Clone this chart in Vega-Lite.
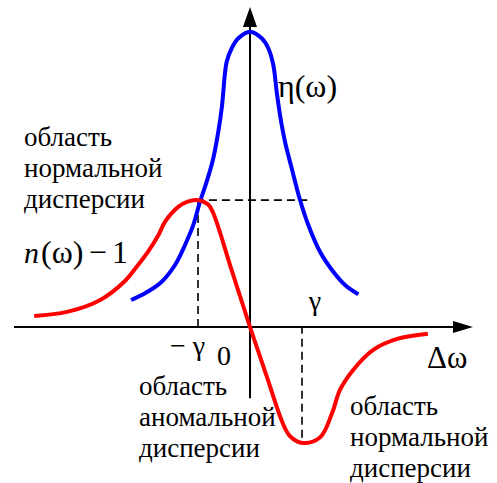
{
  "$schema": "https://vega.github.io/schema/vega-lite/v6.json",
  "width": 497,
  "height": 483,
  "autosize": {"type": "fit", "contains": "padding"},
  "padding": 0,
  "background": "white",
  "config": {"view": {"stroke": null}},
  "datasets": {
    "blue": [
      {"x": -2.288, "y": 0.519}, {"x": -2.019, "y": 0.648}, {"x": -1.698, "y": 0.871}, {"x": -1.442, "y": 1.192},
      {"x": -1.25, "y": 1.577}, {"x": -1.09, "y": 1.962}, {"x": -0.962, "y": 2.41}, {"x": -0.833, "y": 2.794},
      {"x": -0.706, "y": 3.244}, {"x": -0.61, "y": 3.756}, {"x": -0.544, "y": 4.206}, {"x": -0.513, "y": 4.525},
      {"x": -0.49, "y": 4.8}, {"x": -0.448, "y": 5.102}, {"x": -0.352, "y": 5.36}, {"x": -0.225, "y": 5.552},
      {"x": 0, "y": 5.679},
      {"x": 0.225, "y": 5.552}, {"x": 0.352, "y": 5.36}, {"x": 0.448, "y": 5.038}, {"x": 0.513, "y": 4.525},
      {"x": 0.577, "y": 4.077}, {"x": 0.673, "y": 3.563}, {"x": 0.802, "y": 3.052}, {"x": 0.962, "y": 2.442},
      {"x": 1.121, "y": 1.962}, {"x": 1.346, "y": 1.448}, {"x": 1.602, "y": 1.063}, {"x": 1.827, "y": 0.808},
      {"x": 2.083, "y": 0.629}
    ],
    "red": [
      {"x": -4.15, "y": 0.21}, {"x": -3.52, "y": 0.29}, {"x": -2.88, "y": 0.52}, {"x": -2.4, "y": 0.89},
      {"x": -2.21, "y": 1.12}, {"x": -1.96, "y": 1.45}, {"x": -1.76, "y": 1.77}, {"x": -1.63, "y": 2.03},
      {"x": -1.38, "y": 2.31}, {"x": -1.2, "y": 2.41}, {"x": -1.025, "y": 2.442}, {"x": -0.8, "y": 2.35},
      {"x": -0.706, "y": 2.187}, {"x": -0.353, "y": 1.094}, {"x": 0, "y": 0}, {"x": 0.315, "y": -0.93},
      {"x": 0.63, "y": -1.85}, {"x": 0.77, "y": -2.1},
      {"x": 1.02, "y": -2.23}, {"x": 1.35, "y": -2.12}, {"x": 1.58, "y": -1.65}, {"x": 1.73, "y": -1.21},
      {"x": 1.98, "y": -0.83}, {"x": 2.37, "y": -0.44}, {"x": 2.83, "y": -0.23}, {"x": 3.42, "y": -0.13}
    ],
    "axes": [
      {"g": "h", "x": -4.54, "y": 0}, {"g": "h", "x": 3.92, "y": 0},
      {"g": "v", "x": 0, "y": -1.37}, {"g": "v", "x": 0, "y": 5.8}
    ],
    "dashed": [
      {"g": "h", "x": -1.04, "y": 2.44}, {"g": "h", "x": 1.1, "y": 2.44},
      {"g": "v1", "x": -1.0, "y": 0}, {"g": "v1", "x": -1.0, "y": 2.44},
      {"g": "v2", "x": 1.0, "y": 0}, {"g": "v2", "x": 1.0, "y": -2.13}
    ],
    "arrowRight": [
      {"x": 3.904, "y": -0.115, "y2": 0.115}, {"x": 4.288, "y": 0, "y2": 0}
    ],
    "arrowUp": [
      {"y": 5.769, "x": -0.135, "x2": 0.135}, {"y": 6.154, "x": 0, "x2": 0}
    ],
    "labels": [
      {"k": "ru", "x": -4.346, "y": 3.481, "t": ["область", "нормальной", "дисперсии"]},
      {"k": "ru", "x": -2.135, "y": -1.308, "t": ["область", "аномальной", "дисперсии"]},
      {"k": "ru", "x": 1.923, "y": -1.692, "t": ["область", "нормальной", "дисперсии"]},
      {"k": "sym", "x": 0.538, "y": 4.423, "t": "η(ω)"},
      {"k": "sym", "x": -4.02, "y": 1.231, "t": "(ω)"},
      {"k": "sym", "x": -3.1, "y": 1.231, "t": "−"},
      {"k": "sym", "x": -2.654, "y": 1.231, "t": "1"},
      {"k": "it", "x": -4.346, "y": 1.231, "t": "n"},
      {"k": "sym2", "x": 1.13, "y": 0.327, "t": "γ"},
      {"k": "sym2", "x": -1.538, "y": -0.538, "t": "− γ"},
      {"k": "sym2", "x": -0.635, "y": -0.731, "t": "0"},
      {"k": "sym3", "x": 3.404, "y": -0.788, "t": "Δω"}
    ]
  },
  "encoding": {
    "x": {"field": "x", "type": "quantitative", "axis": null, "scale": {"domain": [-4.808, 4.75], "nice": false, "zero": false}},
    "y": {"field": "y", "type": "quantitative", "axis": null, "scale": {"domain": [-3.0, 6.288], "nice": false, "zero": false}}
  },
  "layer": [
    {
      "data": {"name": "axes"},
      "mark": {"type": "line", "color": "black", "strokeWidth": 2},
      "encoding": {"detail": {"field": "g"}, "order": {"field": "y"}}
    },
    {
      "data": {"name": "arrowRight"},
      "mark": {"type": "area", "color": "black", "orient": "vertical"},
      "encoding": {"y2": {"field": "y2"}}
    },
    {
      "data": {"name": "arrowUp"},
      "mark": {"type": "area", "color": "black", "orient": "horizontal"},
      "encoding": {"x2": {"field": "x2"}}
    },
    {
      "data": {"name": "dashed"},
      "mark": {"type": "line", "color": "black", "strokeWidth": 1.6, "strokeDash": [8, 5]},
      "encoding": {"detail": {"field": "g"}, "order": {"field": "y"}}
    },
    {
      "data": {"name": "blue"},
      "mark": {"type": "line", "color": "#0000ff", "strokeWidth": 4, "interpolate": "catmull-rom"},
      "encoding": {}
    },
    {
      "data": {"name": "red"},
      "mark": {"type": "line", "color": "#ff0000", "strokeWidth": 4, "interpolate": "catmull-rom"},
      "encoding": {}
    },
    {
      "data": {"name": "labels"},
      "transform": [{"filter": "datum.k === 'ru'"}],
      "mark": {"type": "text", "font": "Liberation Serif, Times New Roman, serif", "fontSize": 27, "align": "left", "baseline": "alphabetic", "lineHeight": 31, "color": "black"},
      "encoding": {"text": {"field": "t"}}
    },
    {
      "data": {"name": "labels"},
      "transform": [{"filter": "datum.k === 'sym'"}],
      "mark": {"type": "text", "font": "Liberation Serif, Times New Roman, serif", "fontSize": 32, "align": "left", "baseline": "alphabetic", "color": "black"},
      "encoding": {"text": {"field": "t"}}
    },
    {
      "data": {"name": "labels"},
      "transform": [{"filter": "datum.k === 'it'"}],
      "mark": {"type": "text", "font": "Liberation Serif, Times New Roman, serif", "fontSize": 30, "fontStyle": "italic", "align": "left", "baseline": "alphabetic", "color": "black"},
      "encoding": {"text": {"field": "t"}}
    },
    {
      "data": {"name": "labels"},
      "transform": [{"filter": "datum.k === 'sym2'"}],
      "mark": {"type": "text", "font": "Liberation Serif, Times New Roman, serif", "fontSize": 28, "align": "left", "baseline": "alphabetic", "color": "black"},
      "encoding": {"text": {"field": "t"}}
    },
    {
      "data": {"name": "labels"},
      "transform": [{"filter": "datum.k === 'sym3'"}],
      "mark": {"type": "text", "font": "Liberation Serif, Times New Roman, serif", "fontSize": 31, "align": "left", "baseline": "alphabetic", "color": "black"},
      "encoding": {"text": {"field": "t"}}
    }
  ]
}
